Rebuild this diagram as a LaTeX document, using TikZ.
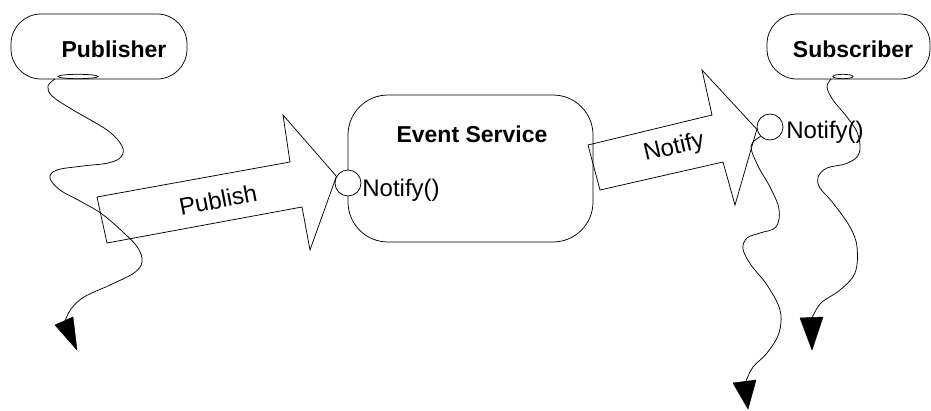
\documentclass[tikz,border=0pt]{standalone}
\usepackage{fontspec}
\setmainfont{Liberation Sans}
\begin{document}
\begin{tikzpicture}[x=1pt,y=-1pt,
  line width=0.75pt,
  pill/.style={draw, rounded corners=30pt, inner sep=0pt},
  svcbox/.style={draw, rounded corners=40pt, inner sep=0pt},
  boldlbl/.style={font=\fontsize{23}{27}\selectfont\bfseries, inner sep=0pt},
  plainlbl/.style={font=\fontsize{24}{28}\selectfont, inner sep=0pt},
  port/.style={circle, draw, fill=white, minimum size=26pt, inner sep=0pt},
  blockarrow/.style={draw, line join=miter},
  lifeline/.style={draw, line width=0.75pt},
  headtip/.style={fill=black, draw=black, line width=0.5pt, line join=round}
]
\useasboundingbox (0,0) rectangle (931,410);

% boxes
\node[pill, minimum width=176pt, minimum height=65pt] (pub) at (99,46.5) {};
\node[boldlbl, anchor=base] (publbl) at (114,57) {Publisher};
\node[pill, minimum width=163pt, minimum height=65pt] (sub) at (848.5,46.5) {};
\node[boldlbl, anchor=base] (sublbl) at (853,57) {Subscriber};
\node[svcbox, minimum width=245pt, minimum height=147pt] (svc) at (470.5,168.5) {};
\node[boldlbl, anchor=base] (svclbl) at (472,142) {Event Service};

% small lifeline origins
\draw (78,76.5) ellipse [x radius=20, y radius=2.2];
\draw (843,76.5) ellipse [x radius=10, y radius=2.2];

% ports
\node[port] (c1) at (348,183) {};
\node[plainlbl, anchor=base west] (n1) at (362,196) {Notify()};

% block arrows
\coordinate (pubtip) at (c1.150);
\draw[blockarrow] (97,197) -- (290,162) -- (283,115) -- (pubtip) -- (310,250) -- (302,207) -- (107,243) -- cycle;
\node[plainlbl, rotate=11] (publish) at (218,200) {Publish};

\node[port] (c2) at (770,127) {};
\coordinate (nottip) at (c2.190);
\draw[blockarrow] (588,145) -- (712,115) -- (702,70) -- (nottip) -- (735,205) -- (723,162) -- (600,190) -- cycle;
\node[plainlbl, rotate=13] (notify) at (674,148) {Notify};
\node[plainlbl, anchor=base west] (n2) at (786,138) {Notify()};

% lifelines
\coordinate (pubstart) at (55,79);
\coordinate (pubend) at (65,321);
\draw[lifeline] plot[smooth, tension=0.6] coordinates {(pubstart) (48,86) (52,96) (73,110) (107,130) (122,146) (121,157) (108,163) (83,166) (57,170) (50,178) (60,190) (80,201) (102,214) (124,233) (138,248) (142,262) (134,273) (110,285) (84,297) (71,309) (pubend)};
\fill[headtip] (55,325) -- (73,317) -- (77,350) -- cycle;

\coordinate (midstart) at (c2.225);
\coordinate (midend) at (746,381);
\draw[lifeline] plot[smooth, tension=0.6] coordinates {(midstart) (751,146) (758,166) (770,187) (779,209) (776,227) (760,233) (747,238) (743,249) (751,265) (767,285) (780,310) (779,333) (767,353) (753,367) (midend)};
\fill[headtip] (733,383) -- (756,380) -- (748,409) -- cycle;

\coordinate (substart) at (831,79);
\coordinate (subend) at (812,318);
\draw[lifeline] plot[smooth, tension=0.6] coordinates {(substart) (827,87) (833,100) (847,117) (857,132) (860,147) (857,157) (845,164) (827,168) (818,177) (820,188) (833,203) (850,227) (857,247) (855,273) (840,290) (821,303) (subend)};
\fill[headtip] (800,318) -- (823,317) -- (812,350) -- cycle;
\end{tikzpicture}
\end{document}
